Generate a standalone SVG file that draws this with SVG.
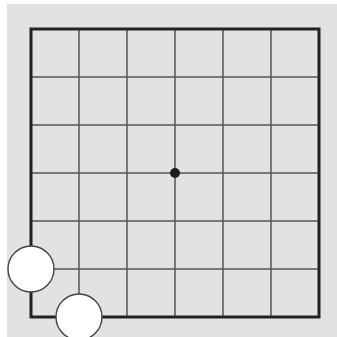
<svg xmlns="http://www.w3.org/2000/svg" width="337" height="337" viewBox="0 0 337 337">
<style>
.grid{stroke:#555;stroke-width:1.5;fill:none}
.border{stroke:#222;stroke-width:3;fill:none}
.stone{fill:#fff;stroke:#444;stroke-width:1.4}
</style>
<rect x="7" y="4" width="330" height="333" fill="#e1e2e3"/>
<g id="connectors">
<path class="grid" d="M79 29V317M127 29V317M175 29V317M223 29V317M271 29V317M31 77H319M31 125H319M31 173H319M31 221H319M31 269H319"/>
<rect class="border" x="31" y="29" width="288" height="288"/>
</g>
<g id="star"><circle cx="175" cy="173" r="5" fill="#1e1e1e"/></g>
<g id="stone1"><circle class="stone" cx="31" cy="269" r="23"/></g>
<g id="stone2"><circle class="stone" cx="79" cy="317" r="23"/></g>
</svg>
